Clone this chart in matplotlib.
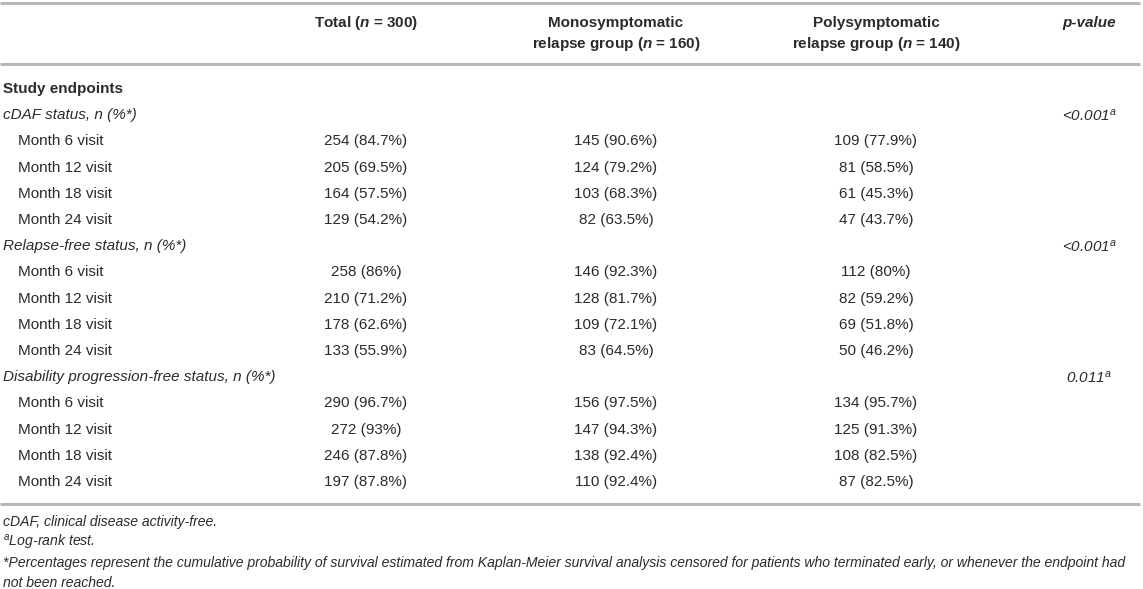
import matplotlib
matplotlib.use("Agg")
import matplotlib.pyplot as plt
from matplotlib import font_manager

# table content
col_headers = [
    ["Total ($\\mathbf{n}$ = 300)"],
    ["Monosymptomatic", "relapse group ($\\mathbf{n}$ = 160)"],
    ["Polysymptomatic", "relapse group ($\\mathbf{n}$ = 140)"],
]
pvalue_header = "p-value"
section_title = "Study endpoints"
groups = [
    "cDAF status, n (%*)",
    "Relapse-free status, n (%*)",
    "Disability progression-free status, n (%*)",
]
visits = ["Month 6 visit", "Month 12 visit", "Month 18 visit", "Month 24 visit"]
total_vals = [
    ["254 (84.7%)", "205 (69.5%)", "164 (57.5%)", "129 (54.2%)"],
    ["258 (86%)", "210 (71.2%)", "178 (62.6%)", "133 (55.9%)"],
    ["290 (96.7%)", "272 (93%)", "246 (87.8%)", "197 (87.8%)"],
]
mono_vals = [
    ["145 (90.6%)", "124 (79.2%)", "103 (68.3%)", "82 (63.5%)"],
    ["146 (92.3%)", "128 (81.7%)", "109 (72.1%)", "83 (64.5%)"],
    ["156 (97.5%)", "147 (94.3%)", "138 (92.4%)", "110 (92.4%)"],
]
poly_vals = [
    ["109 (77.9%)", "81 (58.5%)", "61 (45.3%)", "47 (43.7%)"],
    ["112 (80%)", "82 (59.2%)", "69 (51.8%)", "50 (46.2%)"],
    ["134 (95.7%)", "125 (91.3%)", "108 (82.5%)", "87 (82.5%)"],
]
p_values = ["<0.001${}^{a}$", "<0.001${}^{a}$", "0.011${}^{a}$"]
footnotes = [
    "cDAF, clinical disease activity-free.",
    "${}^{a}$Log-rank test.",
    "*Percentages represent the cumulative probability of survival estimated from Kaplan-Meier survival analysis censored for patients who terminated early, or whenever the endpoint had",
    "not been reached.",
]

plt.rcParams["font.family"] = ["Liberation Sans", "DejaVu Sans"]
plt.rcParams["mathtext.fontset"] = "custom"
plt.rcParams["mathtext.rm"] = "Liberation Sans:italic"
plt.rcParams["mathtext.it"] = "Liberation Sans:italic"
plt.rcParams["mathtext.bf"] = "Liberation Sans:bold:italic"

installed = {f.name for f in font_manager.fontManager.ttflist}
note_family = ["Liberation Sans Narrow"] if "Liberation Sans Narrow" in installed else ["Liberation Sans"]

TXT = "#2b2b2b"
LINE = "#b8b8b8"
FS = 11

fig = plt.figure(figsize=(11.43, 5.89), dpi=100)
ax = fig.add_axes([0, 0, 1, 1])
ax.set_xlim(0, 1143)
ax.set_ylim(589, 0)
ax.axis("off")

col_x = [366, 616, 876]
p_x = 1089

# rules
for y in (3, 64, 504):
    ax.plot([0, 1140], [y, y], color=LINE, lw=2.2, solid_capstyle="butt")

# header
for x, lines in zip(col_x, col_headers):
    for k, line in enumerate(lines):
        ax.text(x, 23 + 20.8 * k, line, ha="center", va="center",
                fontsize=FS, fontweight="bold", color=TXT)
ax.text(p_x, 23, pvalue_header, ha="center", va="center", fontsize=FS,
        fontweight="bold", fontstyle="italic", color=TXT)

# body
y0, pitch = 89, 26.2
ax.text(3, y0, section_title, ha="left", va="center", fontsize=FS,
        fontweight="bold", color=TXT)
row = 1
for g, name in enumerate(groups):
    y = y0 + pitch * row
    ax.text(3, y, name, ha="left", va="center", fontsize=FS,
            fontstyle="italic", color=TXT)
    ax.text(p_x, y, p_values[g], ha="center", va="center", fontsize=FS,
            fontstyle="italic", color=TXT)
    row += 1
    for v, visit in enumerate(visits):
        y = y0 + pitch * row
        ax.text(18, y, visit, ha="left", va="center", fontsize=FS, color=TXT)
        for x, vals in zip(col_x, (total_vals, mono_vals, poly_vals)):
            ax.text(x, y, vals[g][v], ha="center", va="center",
                    fontsize=FS, color=TXT)
        row += 1

# footnotes - shrink so the long line ends where the reference's does
notes = []
for yy, note in zip((522, 542, 563, 583), footnotes):
    notes.append(ax.text(3, yy, note, ha="left", va="center", fontsize=10,
                         fontstyle="italic", family=note_family, color=TXT))
renderer = fig.canvas.get_renderer()
w = notes[2].get_window_extent(renderer).width
note_fs = 10 * (1128 / w)
for t in notes:
    t.set_fontsize(note_fs)

fig.savefig("out.png", dpi=100, facecolor="white")
